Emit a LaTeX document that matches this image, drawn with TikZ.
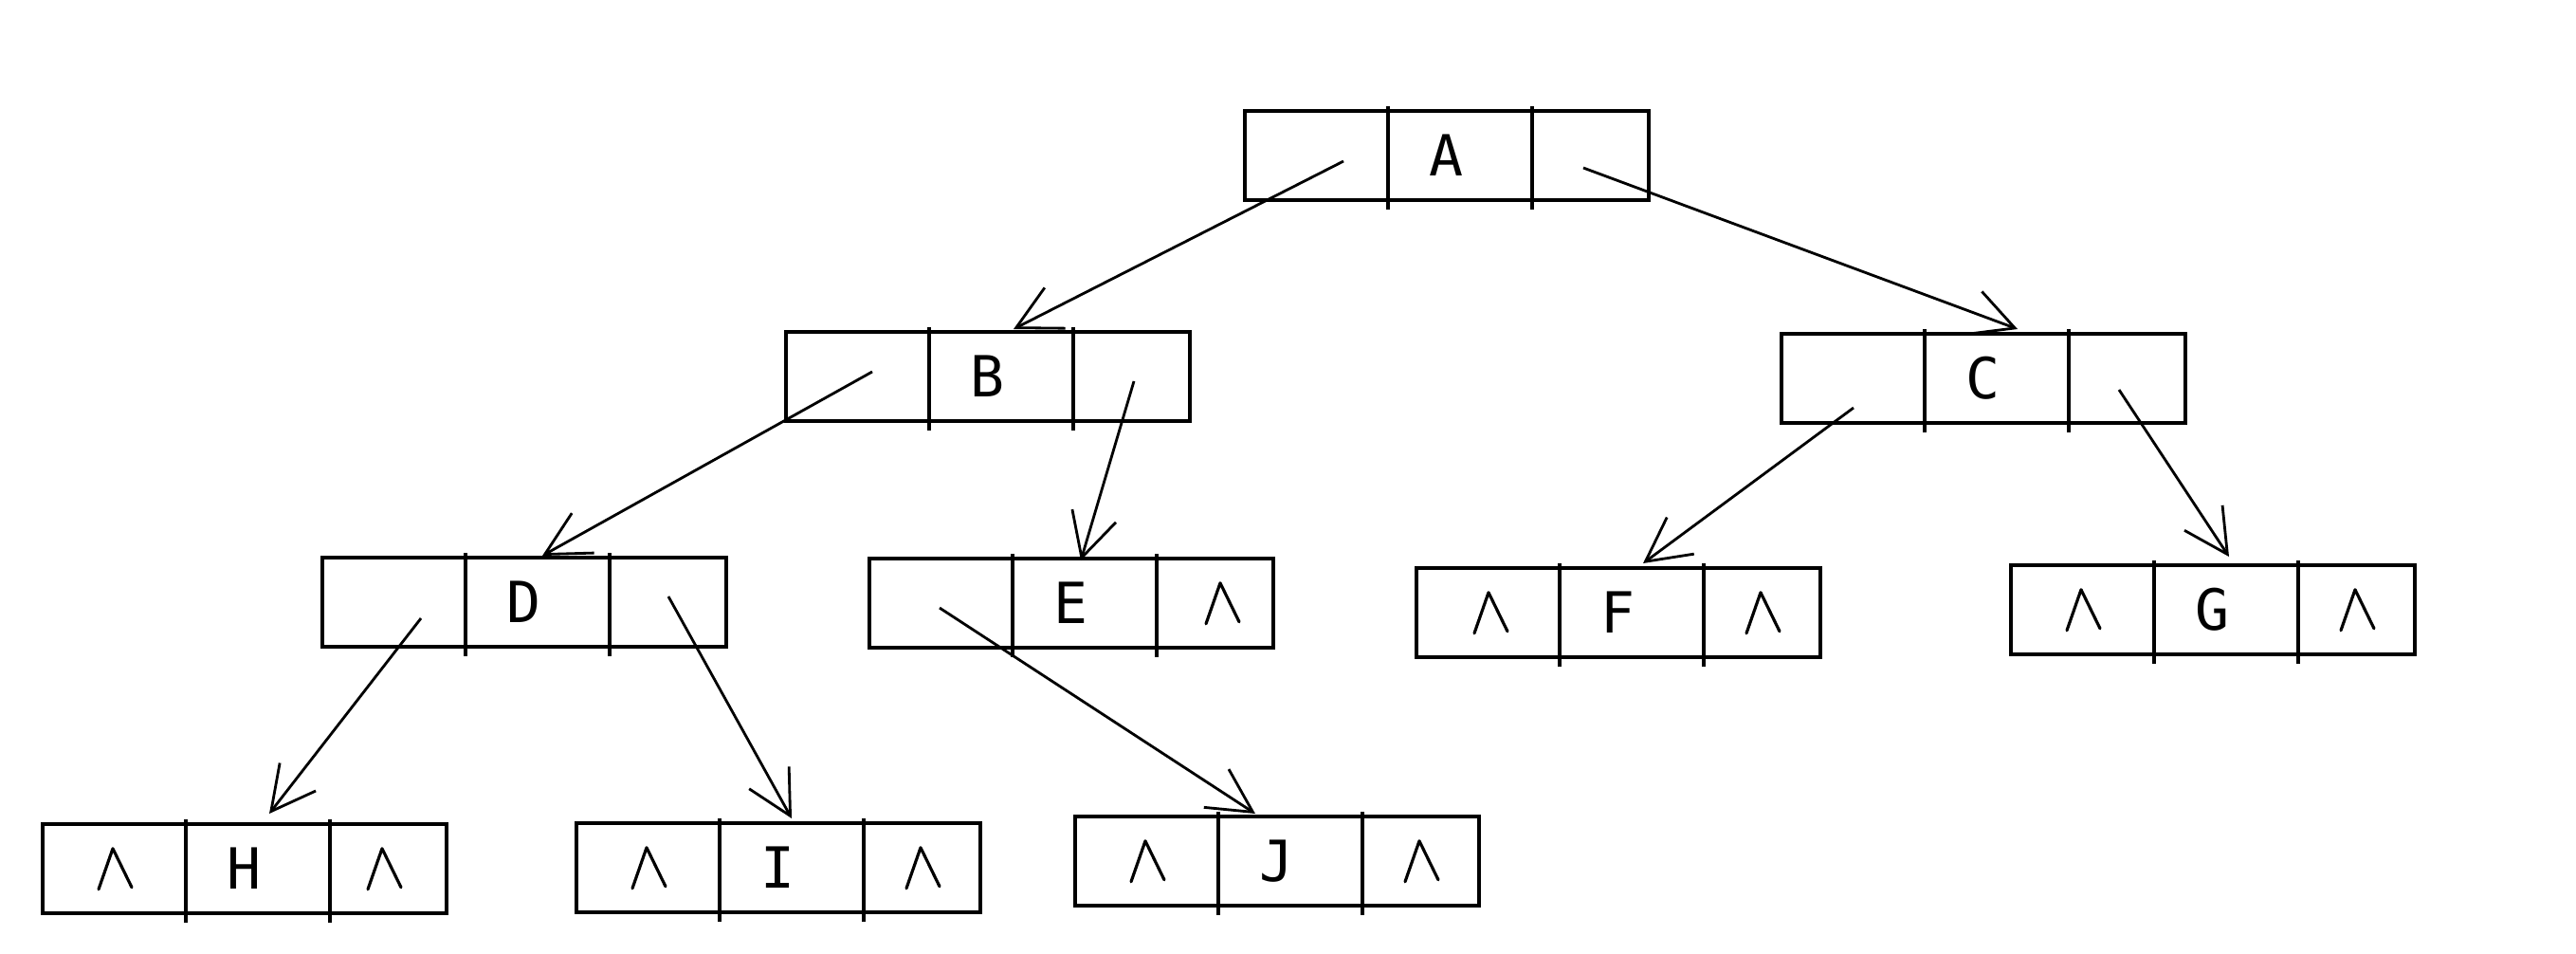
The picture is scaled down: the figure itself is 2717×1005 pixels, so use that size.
\documentclass[tikz,border=0pt]{standalone}
\usepackage{fontspec}
\setmonofont{DejaVu Sans Mono}
\usetikzlibrary{arrows.meta,calc}
\tikzset{
  cellbox/.style={draw, line width=1pt, anchor=north west, minimum width=4.26cm, minimum height=0.94cm, inner sep=0pt, font=\ttfamily\fontsize{17}{20}\selectfont},
  divider/.style={line width=1pt},
  nilmk/.style={line width=0.9pt, line cap=round, line join=round},
  arr/.style={line width=0.8pt, -{Straight Barb[length=0.46cm,width=0.48cm,line width=0.8pt]}}
}
\newcommand\lnode[4]{%
  \node[cellbox] (#1) at (#2,#3) {#4};
  \draw[divider] ($(#1.north west)+(153,-3)$) -- ($(#1.south west)+(153,8)$);
  \draw[divider] ($(#1.north west)+(305,-3)$) -- ($(#1.south west)+(305,8)$);
}
\newcommand\nilmark[1]{%
  \draw[nilmk] ($#1+(-15,22)$) -- ($#1+(0,-21)$) -- ($#1+(20,20)$);
}
\begin{document}
\begin{tikzpicture}[x=0.01cm, y=-0.01cm]
\useasboundingbox (0,0) rectangle (2717,1005);
% nodes
\lnode{A}{1311}{115}{A}
\lnode{B}{827}{348}{B}
\lnode{C}{1877}{350}{C}
\lnode{D}{338}{586}{D}
\lnode{E}{915}{587}{E}
\lnode{F}{1492}{597}{F}
\lnode{G}{2119}{594}{G}
\lnode{H}{43}{867}{H}
\lnode{I}{606}{866}{I}
\lnode{J}{1132}{859}{J}
% nil marks
\nilmark{(E.west)+(372,0)}
\nilmark{(F.west)+(78,0)}
\nilmark{(F.west)+(365,0)}
\nilmark{(G.west)+(76,0)}
\nilmark{(G.west)+(365,0)}
\nilmark{(H.west)+(76,0)}
\nilmark{(H.west)+(360,0)}
\nilmark{(I.west)+(76,0)}
\nilmark{(I.west)+(365,0)}
\nilmark{(J.west)+(76,0)}
\nilmark{(J.west)+(365,0)}
% pointer start points
\coordinate (A-l) at ($(A.north west)+(106,55)$);
\coordinate (A-r) at ($(A.north west)+(359,62)$);
\coordinate (B-l) at ($(B.north west)+(93,44)$);
\coordinate (B-r) at ($(B.north west)+(369,54)$);
\coordinate (C-l) at ($(C.north west)+(78,80)$);
\coordinate (C-r) at ($(C.north west)+(358,61)$);
\coordinate (D-l) at ($(D.north west)+(106,66)$);
\coordinate (D-r) at ($(D.north west)+(367,43)$);
\coordinate (E-l) at ($(E.north west)+(76,54)$);
% pointer end points
\coordinate (B-in) at ($(B.north west)+(242,-1)$);
\coordinate (C-in) at ($(C.north west)+(251,-3)$);
\coordinate (D-in) at ($(D.north west)+(234,0)$);
\coordinate (E-in) at ($(E.north west)+(225,4)$);
\coordinate (F-in) at ($(F.north west)+(241,-3)$);
\coordinate (G-in) at ($(G.north west)+(232,-7)$);
\coordinate (H-in) at ($(H.north west)+(241,-9)$);
\coordinate (I-in) at ($(I.north west)+(229,-3)$);
\coordinate (J-in) at ($(J.north west)+(192,-1)$);
% connectors
\draw[arr] (A-l) -- (B-in);
\draw[arr] (A-r) -- (C-in);
\draw[arr] (B-l) -- (D-in);
\draw[arr] (B-r) -- (E-in);
\draw[arr] (C-l) -- (F-in);
\draw[arr] (C-r) -- (G-in);
\draw[arr] (D-l) -- (H-in);
\draw[arr] (D-r) -- (I-in);
\draw[arr] (E-l) -- (J-in);
\end{tikzpicture}
\end{document}
